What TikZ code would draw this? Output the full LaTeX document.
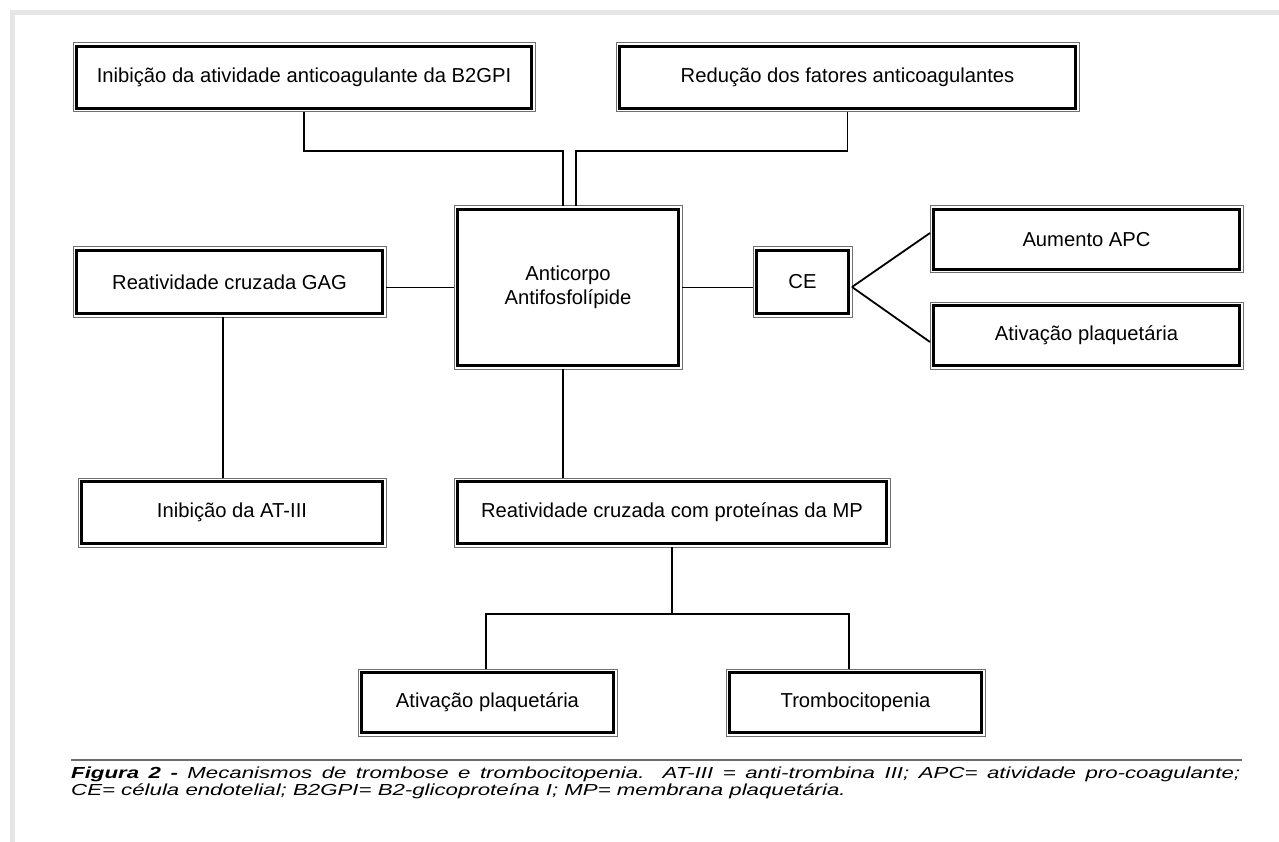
\documentclass[tikz,border=0pt]{standalone}
\usepackage{fontspec}
\setmainfont{Liberation Sans}
\newfontfamily\capfont[FakeStretch=1.39]{Liberation Sans}
\definecolor{framegray}{HTML}{E6E6E6}
\definecolor{edgegray}{HTML}{707070}
\begin{document}
\begin{tikzpicture}[x=1pt,y=-1pt,
  bx/.style 2 args={draw=black, line width=2.4pt, outer sep=3.5pt, inner sep=0pt,
    minimum width={#1-7}, minimum height={#2-7}, align=center,
    font=\fontsize{20.2}{24}\selectfont},
  ln/.style={line width=1.8pt, black},
  outerframe/.style={draw=edgegray, line width=1pt},
  rule/.style={draw=gray!85!black, line width=1.2pt}]
\useasboundingbox (0,0) rectangle (1279,842);
\fill[white] (0,0) rectangle (1279,842);
\fill[framegray] (10,10) rectangle (1279,15);
\fill[framegray] (10,10) rectangle (15,842);

\node[bx={462}{69}] (b1) at (304,77.5) {Inibição da atividade anticoagulante da B2GPI};
\node[bx={463}{69}] (b2) at (847.5,77.5) {Redução dos fatores anticoagulantes};
\node[bx={228}{163}] (c) at (568,287.5) {Anticorpo\\Antifosfolípide};
\node[bx={313}{70}] (g) at (229.5,282) {Reatividade cruzada GAG};
\node[bx={308}{69}] (a) at (232,512.5) {Inibição da AT-III};
\node[bx={436}{69}] (m) at (672,512.5) {Reatividade cruzada com proteínas da MP};
\node[bx={99}{70}] (ce) at (802.5,282) {CE};
\node[bx={313}{67}] (ap) at (1086.5,239.5) {Aumento APC};
\node[bx={313}{67}] (pr) at (1086.5,335.5) {Ativação plaquetária};
\node[bx={259}{67}] (pb) at (487.5,702.5) {Ativação plaquetária};
\node[bx={259}{67}] (tr) at (855.5,702.5) {Trombocitopenia};

\foreach \n in {b1,b2,c,g,a,m,ce,ap,pr,pb,tr}
  \draw[outerframe] (\n.north west) rectangle (\n.south east);

\draw[ln] (b1.south) -- ++(0,39) -| ([xshift=-5pt]c.north);
\draw[ln] (b2.south) -- ++(0,39) -| ([xshift=8pt]c.north);
\draw[ln] (c.west) -- (c.west -| g.east);
\draw[ln] (c.east) -- (c.east -| ce.west);
\draw[ln] ([xshift=-6.5pt]g.south) -- ([xshift=-6.5pt]g.south |- a.north);
\draw[ln] ([xshift=-5pt]c.south) -- ([xshift=-5pt]c.south |- m.north);
\coordinate (j) at (672,614);
\draw[ln] (m.south) -- (j);
\draw[ln] ([xshift=-1.5pt]pb.north) |- (j) -| ([xshift=-6.5pt]tr.north);
\draw[ln] ([yshift=-5pt]ce.east) -- ([yshift=6.5pt]ap.west);
\draw[ln] ([yshift=-5pt]ce.east) -- ([yshift=-6.5pt]pr.west);

\draw[rule] (71,760) -- (1242,760);
\node[anchor=base west, inner sep=0pt] (cap1) at (71,778)
  {\capfont\fontsize{16}{18}\selectfont\itshape\makebox[1169pt][s]{\bfseries Figura 2 -\mdseries{} Mecanismos de trombose e trombocitopenia. AT-III = anti-trombina III; APC= atividade pro-coagulante;}};
\node[anchor=base west, inner sep=0pt] (cap2) at (71,795)
  {\capfont\fontsize{16}{18}\selectfont\itshape CE= célula endotelial; B2GPI= B2-glicoproteína I; MP= membrana plaquetária.};
\end{tikzpicture}
\end{document}
